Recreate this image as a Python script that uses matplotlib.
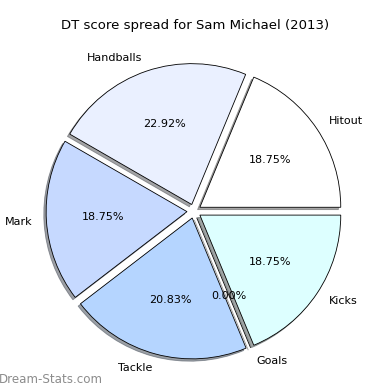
import matplotlib
matplotlib.use('Agg')
import matplotlib.pyplot as plt

labels = ['Hitout', 'Handballs', 'Mark', 'Tackle', 'Goals', 'Kicks']
values = [18.75, 22.92, 18.75, 20.83, 0.0, 18.75]
colors = ['#FFFFFF', '#EAF0FF', '#C6D9FF', '#B5D5FF', '#C0C0C0', '#DDFFFF']
explode = [0.05] * len(values)

fig = plt.figure(figsize=(3.9, 3.9), dpi=100)
ax = fig.add_axes([0.046, 0.007, 0.903, 0.903])
wedges, texts, autotexts = ax.pie(values, labels=labels, colors=colors, explode=explode,
                                  autopct='%.2f%%', startangle=0, counterclock=True,
                                  shadow={'ox': -0.012, 'oy': -0.012},
                                  wedgeprops={'edgecolor': 'black', 'linewidth': 0.6},
                                  textprops={'fontsize': 8})
ax.set_aspect('equal')
fig.suptitle('DT score spread for Sam Michael (2013)', fontsize=9.5, y=0.95)
fig.text(-0.003, 0.017, 'Dream-Stats.com', fontsize=8.6, color='#8c8c8c')
fig.savefig('out.png', dpi=100)
